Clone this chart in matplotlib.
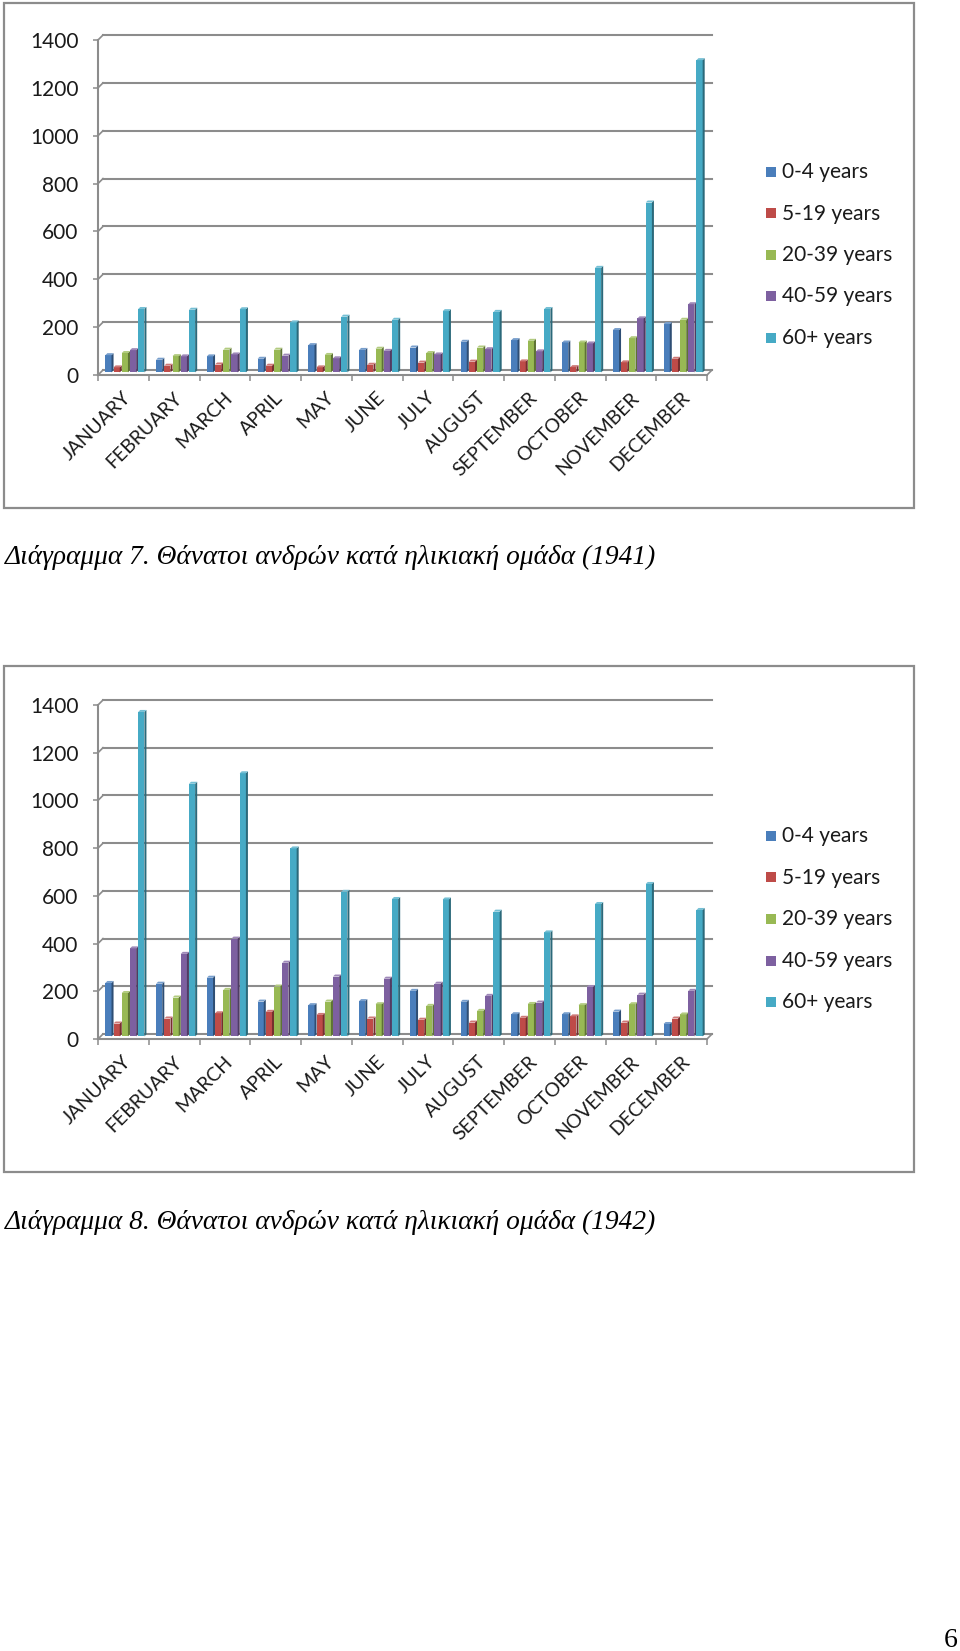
import matplotlib
matplotlib.use("Agg")
import matplotlib.pyplot as plt
import numpy as np
from matplotlib.patches import Polygon, Rectangle
from matplotlib.transforms import ScaledTranslation
from matplotlib.colors import to_rgb

plt.rcParams['font.family'] = ['Lato', 'DejaVu Sans']

W, H = 960, 1651

months = ["JANUARY", "FEBRUARY", "MARCH", "APRIL", "MAY", "JUNE", "JULY",
          "AUGUST", "SEPTEMBER", "OCTOBER", "NOVEMBER", "DECEMBER"]
age_groups = ["0-4 years", "5-19 years", "20-39 years", "40-59 years", "60+ years"]
colors = ["#4A7EBB", "#BE4B48", "#98B954", "#7D60A0", "#46AAC5"]
yticks = [0, 200, 400, 600, 800, 1000, 1200, 1400]

# 1941
d41_0_4 = [72, 53, 67, 57, 114, 94, 104, 128, 135, 125, 177, 202]
d41_5_19 = [21, 28, 33, 28, 21, 32, 41, 45, 46, 22, 42, 57]
d41_20_39 = [81, 68, 95, 95, 73, 99, 81, 104, 132, 125, 143, 220]
d41_40_59 = [93, 67, 75, 70, 59, 90, 75, 97, 88, 121, 226, 285]
d41_60 = [265, 262, 264, 209, 233, 220, 256, 253, 265, 437, 710, 1305]

# 1942
d42_0_4 = [224, 221, 246, 146, 131, 148, 191, 145, 93, 93, 104, 52]
d42_5_19 = [54, 75, 97, 103, 90, 75, 70, 58, 78, 84, 58, 75]
d42_20_39 = [182, 163, 195, 209, 146, 135, 128, 107, 136, 131, 135, 92]
d42_40_59 = [369, 346, 410, 309, 251, 242, 221, 170, 142, 207, 175, 191]
d42_60 = [1360, 1059, 1103, 788, 606, 576, 574, 523, 436, 555, 639, 530]

captions = ["Διάγραμμα 7. Θάνατοι ανδρών κατά ηλικιακή ομάδα (1941)",
            "Διάγραμμα 8. Θάνατοι ανδρών κατά ηλικιακή ομάδα (1942)"]

GRID = "#8c8c8c"


def darker(c, f):
    r, g, b = to_rgb(c)
    return (r * f, g * f, b * f)


def lighter(c, f):
    r, g, b = to_rgb(c)
    return (r + (1 - r) * f, g + (1 - g) * f, b + (1 - b) * f)


def draw_chart(fig, series, frame_top, frame_bot, y_top, y_zero, leg_y0, caption, cap_y):
    # outer frame of the chart object
    fig.patches.append(Rectangle((4 / W, 1 - frame_bot / H), 910 / W, (frame_bot - frame_top) / H,
                                 transform=fig.transFigure, fill=False, ec=GRID, lw=1.6))

    ax = fig.add_axes([98 / W, 1 - y_zero / H, 609 / W, (y_zero - y_top) / H])
    ax.set_xlim(-0.5, 11.5)
    ax.set_ylim(0, 1400)
    ppx = 609 / 12                 # px per month group
    upx = 1400 / (y_zero - y_top)  # value units per px
    wx, wy = 5 / ppx, 5 * upx      # back wall offset

    # back wall gridlines with slanted start
    for t in yticks:
        ax.plot([-0.5 + wx, 11.5 + wx], [t + wy, t + wy], color=GRID, lw=1.5, clip_on=False, zorder=1)
        ax.plot([-0.5, -0.5 + wx], [t, t + wy], color=GRID, lw=1.2, clip_on=False, zorder=1)
    # front floor edge
    ax.plot([-0.5, 11.5], [0, 0], color=GRID, lw=1.5, clip_on=False, zorder=1)
    ax.plot([11.5, 11.5 + wx], [0, wy], color=GRID, lw=1.2, clip_on=False, zorder=1)

    # pseudo 3d columns
    s = 0.162
    w = 0.122
    dx = s - w
    dy = 2 * upx
    base = 2.6 * upx
    shift = 2.5 / ppx
    for i, vals in enumerate(series):
        xs = np.arange(12) - 2.5 * s + i * s + shift
        ax.bar(xs, vals, width=w, bottom=base, align='edge', color=colors[i], lw=0, zorder=3)
        for x0, v in zip(xs, vals):
            top = base + v
            ax.add_patch(Polygon([(x0 + w, base), (x0 + w + dx, base + dy), (x0 + w + dx, top + dy), (x0 + w, top)],
                                 closed=True, fc=darker(colors[i], 0.62), lw=0, zorder=3))
            ax.add_patch(Polygon([(x0, top), (x0 + w, top), (x0 + w + dx, top + dy), (x0 + dx, top + dy)],
                                 closed=True, fc=lighter(colors[i], 0.25), lw=0, zorder=3))

    for side in ["top", "right", "bottom"]:
        ax.spines[side].set_visible(False)
    ax.spines["left"].set_color(GRID)
    ax.spines["left"].set_linewidth(1.5)
    ax.set_yticks(yticks)
    ax.tick_params(axis='y', length=3.6, width=1.1, color=GRID, pad=10.5, labelsize=15, labelcolor="#1a1a1a")
    ax.set_xticks(np.arange(12))
    ax.set_xticklabels(months, rotation=45, ha='right', va='center', rotation_mode='anchor')
    ax.set_xticks(np.arange(-0.5, 12, 1), minor=True)
    ax.tick_params(axis='x', which='major', length=0, pad=15, labelsize=14, labelcolor="#1a1a1a")
    ax.tick_params(axis='x', which='minor', length=4.5, width=1.1, color=GRID)
    off = ScaledTranslation(5 / 100, 1 / 100, fig.dpi_scale_trans)
    for lab in ax.get_xticklabels():
        lab.set_transform(lab.get_transform() + off)

    # legend
    for i, name in enumerate(age_groups):
        yc = leg_y0 + i * 41.5
        fig.patches.append(Rectangle((766 / W, 1 - (yc + 5) / H), 10 / W, 10 / H,
                                     transform=fig.transFigure, fc=colors[i], ec='none'))
        fig.text(782 / W, 1 - yc / H, name, fontsize=15, color="#1a1a1a", va='center', ha='left')

    fig.text(5 / W, 1 - cap_y / H, caption, fontsize=19.7, style='italic',
             family=['Liberation Serif', 'DejaVu Serif'], va='baseline', ha='left')


fig = plt.figure(figsize=(W / 100, H / 100), dpi=100)
fig.patch.set_facecolor("white")

draw_chart(fig, [d41_0_4, d41_5_19, d41_20_39, d41_40_59, d41_60],
           3, 508, 40, 375, 172, captions[0], 564)
draw_chart(fig, [d42_0_4, d42_5_19, d42_20_39, d42_40_59, d42_60],
           666, 1172, 705, 1039, 836, captions[1], 1229)

fig.text(958 / W, 1 - 1647 / H, "6", fontsize=20, family=['Liberation Serif', 'DejaVu Serif'],
         ha='right', va='baseline')

fig.savefig("out.png", dpi=100, facecolor="white")
